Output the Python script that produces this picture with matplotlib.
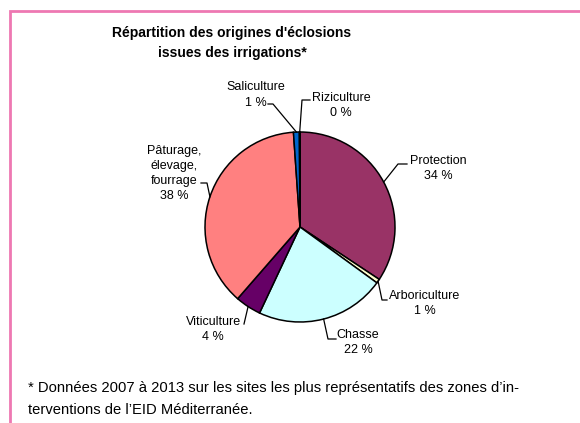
import numpy as np
import matplotlib.pyplot as plt

plt.rcParams['font.family'] = ['Liberation Sans', 'DejaVu Sans']

# data (clockwise from 12 o'clock)
categories = ["Protection", "Arboriculture", "Chasse", "Viticulture",
              "Pâturage,\nélevage,\nfourrage", "Saliculture", "Riziculture"]
shares = [34.3, 0.7, 22.0, 4.4, 37.5, 1.0, 0.1]
pct_labels = ["34 %", "1 %", "22 %", "4 %", "38 %", "1 %", "0 %"]
colors = ["#993366", "#FFFFCC", "#CCFFFF", "#660066", "#FF8080", "#0066CC", "#CCCCFF"]

W, H = 580, 423
def Y(p):
    return H - p

# label layout in pixel coords (y from top): text centre, elbow, end of leader
label_pos = [(438, 168.5), (425, 303.5), (358, 342.5), (213, 329.5),
             (174, 173.5), (256, 95), (341, 105.5)]
elbows = [(398, 164), (382, 300), (328, 339), (244, 324),
          (207, 183), (273, 104), (302, 100)]
ends = [(407, 164), (387, 300), (336, 339), (244, 324),
        (201, 183), (268, 104), (310, 100)]

fig = plt.figure(figsize=(5.8, 4.23), dpi=100)
ax = fig.add_axes([0, 0, 1, 1])

cx, cy, r = 300, Y(227), 95
wedges, _ = ax.pie(shares, colors=colors, startangle=90, counterclock=False,
                   center=(cx, cy), radius=r,
                   wedgeprops=dict(edgecolor="black", linewidth=1.1))
ax.set_xlim(0, W)
ax.set_ylim(0, H)
ax.set_aspect("equal")
ax.axis("off")

for w, cat, pct, (tx, ty), (ex, ey), (nx, ny) in zip(wedges, categories, pct_labels,
                                                      label_pos, elbows, ends):
    mid = np.deg2rad((w.theta1 + w.theta2) / 2)
    px, py = cx + r * np.cos(mid), cy + r * np.sin(mid)
    ax.plot([px, ex, nx], [py, Y(ey), Y(ny)], color="black", lw=0.9)
    ax.text(tx, Y(ty), cat + "\n" + pct, ha="center", va="center",
            multialignment="center", fontsize=9, linespacing=1.35)

# title
ax.text(232, Y(43), "Répartition des origines d'éclosions\nissues des irrigations*",
        ha="center", va="center", fontsize=10, fontweight="bold", linespacing=1.6)

# footnote
ax.text(28, Y(388), "* Données 2007 à 2013 sur les sites les plus représentatifs des zones d’in-",
        ha="left", va="center", fontsize=10.6)
ax.text(28, Y(410), "terventions de l’EID Méditerranée.",
        ha="left", va="center", fontsize=10.6)

# pink frame
ax.plot([10, 10, W], [0, Y(11), Y(11)], color="#EE78B2", lw=2, solid_joinstyle="miter",
        clip_on=False)

fig.savefig("out.png", dpi=100)
